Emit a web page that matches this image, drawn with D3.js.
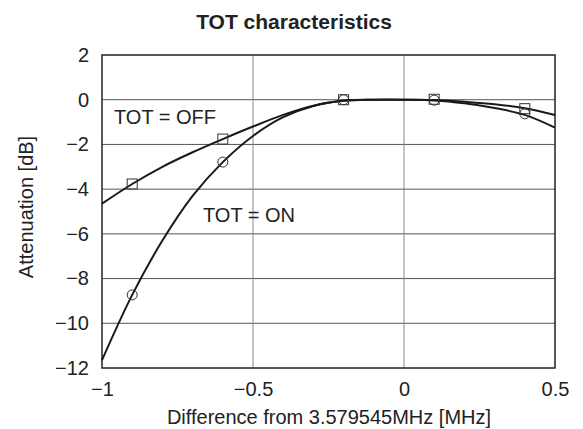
<!DOCTYPE html>
<html>
<head>
<meta charset="utf-8">
<script src="https://cdn.jsdelivr.net/npm/d3@7"></script>
<style>
  body { margin: 0; background: #fff; }
  text { font-family: "Liberation Sans", Arial, sans-serif; fill: #222; }
</style>
</head>
<body>
<svg id="chart" width="583" height="429"></svg>
<script>
// tick values
const xTicks = [-1, -0.5, 0, 0.5]
const yTicks = [2, 0, -2, -4, -6, -8, -10, -12]

// measured points (markers)
const offX = [-0.9, -0.6, -0.2, 0.1, 0.4]
const offY = [-3.77, -1.76, 0, 0.02, -0.4]
const onX = [-0.9, -0.6, -0.2, 0.1, 0.4]
const onY = [-8.73, -2.79, 0, -0.02, -0.63]

// fitted curves
const curveX = [-1, -0.9, -0.8, -0.7, -0.6, -0.5, -0.4, -0.3, -0.2, -0.1, 0, 0.1, 0.2, 0.3, 0.4, 0.5]
const offCurveY = [-4.65, -3.77, -3.0, -2.35, -1.76, -1.2, -0.68, -0.27, -0.04, 0, 0, -0.01, -0.09, -0.2, -0.38, -0.68]
const onCurveY = [-11.65, -8.73, -6.3, -4.3, -2.79, -1.62, -0.78, -0.28, -0.05, 0, 0, -0.03, -0.16, -0.37, -0.68, -1.25]

const svg = d3.select("#chart")
const pLeft = 102, pRight = 555, pTop = 55, pBottom = 368

let x = d3.scaleLinear().domain([-1, 0.5]).range([pLeft, pRight])
let y = d3.scaleLinear().domain([-12, 2]).range([pBottom, pTop])

// grid
svg.append("g")
    .selectAll("line")
    .data(yTicks.filter(d => d > -12 && d < 2))
    .join("line")
    .attr("x1", pLeft).attr("x2", pRight)
    .attr("y1", d => y(d)).attr("y2", d => y(d))
    .attr("stroke", "#555")
    .attr("stroke-width", 1)
svg.append("g")
    .selectAll("line")
    .data(xTicks.filter(d => d > -1 && d < 0.5))
    .join("line")
    .attr("x1", d => x(d)).attr("x2", d => x(d))
    .attr("y1", pTop).attr("y2", pBottom)
    .attr("stroke", "#888")
    .attr("stroke-width", 1)

// axes (labels only, no tick marks)
svg.append("g")
    .attr("transform", `translate(0,${pBottom})`)
    .call(d3.axisBottom(x).tickValues(xTicks).tickSize(0).tickPadding(14)
        .tickFormat(d => String(d).replace("-", "\u2212")))
    .call(g => g.select(".domain").remove())
    .call(g => g.selectAll("text").style("font-size", "20px").attr("fill", "#222"))
svg.append("g")
    .attr("transform", `translate(${pLeft},0)`)
    .call(d3.axisLeft(y).tickValues(yTicks).tickSize(0).tickPadding(13)
        .tickFormat(d => String(d).replace("-", "\u2212")))
    .call(g => g.select(".domain").remove())
    .call(g => g.selectAll("text").style("font-size", "20px").attr("fill", "#222"))

// frame
svg.append("rect")
    .attr("x", pLeft).attr("y", pTop)
    .attr("width", pRight - pLeft).attr("height", pBottom - pTop)
    .attr("fill", "none")
    .attr("stroke", "#222")
    .attr("stroke-width", 1.5)

// curves
let line = d3.line()
    .x(d => x(d[0]))
    .y(d => y(d[1]))
    .curve(d3.curveCatmullRom.alpha(0.5))
svg.append("path")
    .datum(curveX.map((v, i) => [v, offCurveY[i]]))
    .attr("fill", "none")
    .attr("stroke", "#1a1a1a")
    .attr("stroke-width", 2)
    .attr("d", line)
svg.append("path")
    .datum(curveX.map((v, i) => [v, onCurveY[i]]))
    .attr("fill", "none")
    .attr("stroke", "#1a1a1a")
    .attr("stroke-width", 2)
    .attr("d", line)

// markers
svg.append("g")
    .selectAll("circle")
    .data(onX.map((v, i) => [v, onY[i]]))
    .join("circle")
    .attr("cx", d => x(d[0]))
    .attr("cy", d => y(d[1]))
    .attr("r", 5)
    .attr("fill", "none")
    .attr("stroke", "#333")
    .attr("stroke-width", 1)
svg.append("g")
    .selectAll("rect")
    .data(offX.map((v, i) => [v, offY[i]]))
    .join("rect")
    .attr("x", d => x(d[0]) - 5)
    .attr("y", d => y(d[1]) - 5)
    .attr("width", 10)
    .attr("height", 10)
    .attr("fill", "none")
    .attr("stroke", "#333")
    .attr("stroke-width", 1)

// annotations
svg.append("text")
    .attr("x", 114).attr("y", 124)
    .style("font-size", "20px")
    .text("TOT = OFF")
svg.append("text")
    .attr("x", 203).attr("y", 222)
    .style("font-size", "20px")
    .text("TOT = ON")

// titles
svg.append("text")
    .attr("x", 294).attr("y", 29)
    .attr("text-anchor", "middle")
    .style("font-size", "21px")
    .style("font-weight", "bold")
    .text("TOT characteristics")
svg.append("text")
    .attr("x", 329).attr("y", 424)
    .attr("text-anchor", "middle")
    .style("font-size", "20px")
    .text("Difference from 3.579545MHz [MHz]")
svg.append("text")
    .attr("transform", `translate(33,207) rotate(-90)`)
    .attr("text-anchor", "middle")
    .style("font-size", "20px")
    .text("Attenuation [dB]")
</script>
</body>
</html>
